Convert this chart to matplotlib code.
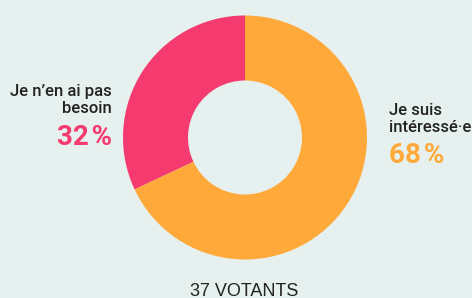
import matplotlib
matplotlib.use("Agg")
import matplotlib.pyplot as plt

labels = ["Je n\u2019en ai pas\nbesoin", "Je suis\nint\u00e9ress\u00e9\u00b7e"]
shares = [32, 68]
colors = ["#f43a6e", "#ffa93a"]
total_votes = 37

bg = "#e6f0ee"
fig = plt.figure(figsize=(4.72, 2.98), dpi=100, facecolor=bg)
ax = fig.add_axes([0, 0, 1, 1])
ax.set_facecolor(bg)

ax.pie(shares, colors=colors, startangle=90, counterclock=True,
       center=(245, 160.5), radius=122, frame=True,
       wedgeprops=dict(width=122 - 57, linewidth=0))
ax.set_xlim(0, 472)
ax.set_ylim(0, 298)
ax.set_aspect("equal")
ax.axis("off")

lab_font = dict(family="Roboto", fontsize=12, color="#222222", fontweight="medium",
                linespacing=1.2)
pct_font = dict(family="Roboto", fontsize=20, fontweight="bold")

# left label (baseline of the last line)
ax.text(112, 185, labels[0], ha="right", va="baseline", **lab_font)
ax.text(112, 153, f"{shares[0]}\u200a%", ha="right", va="baseline",
        color=colors[0], **pct_font)
# right label
ax.text(389, 166, labels[1], ha="left", va="baseline", **lab_font)
ax.text(389, 135, f"{shares[1]}\u200a%", ha="left", va="baseline",
        color=colors[1], **pct_font)

ax.text(244, 2, f"{total_votes} VOTANTS", ha="center", va="baseline",
        family="Liberation Sans", fontsize=13, color="#222222")

fig.savefig("out.png", dpi=100, facecolor=bg)
